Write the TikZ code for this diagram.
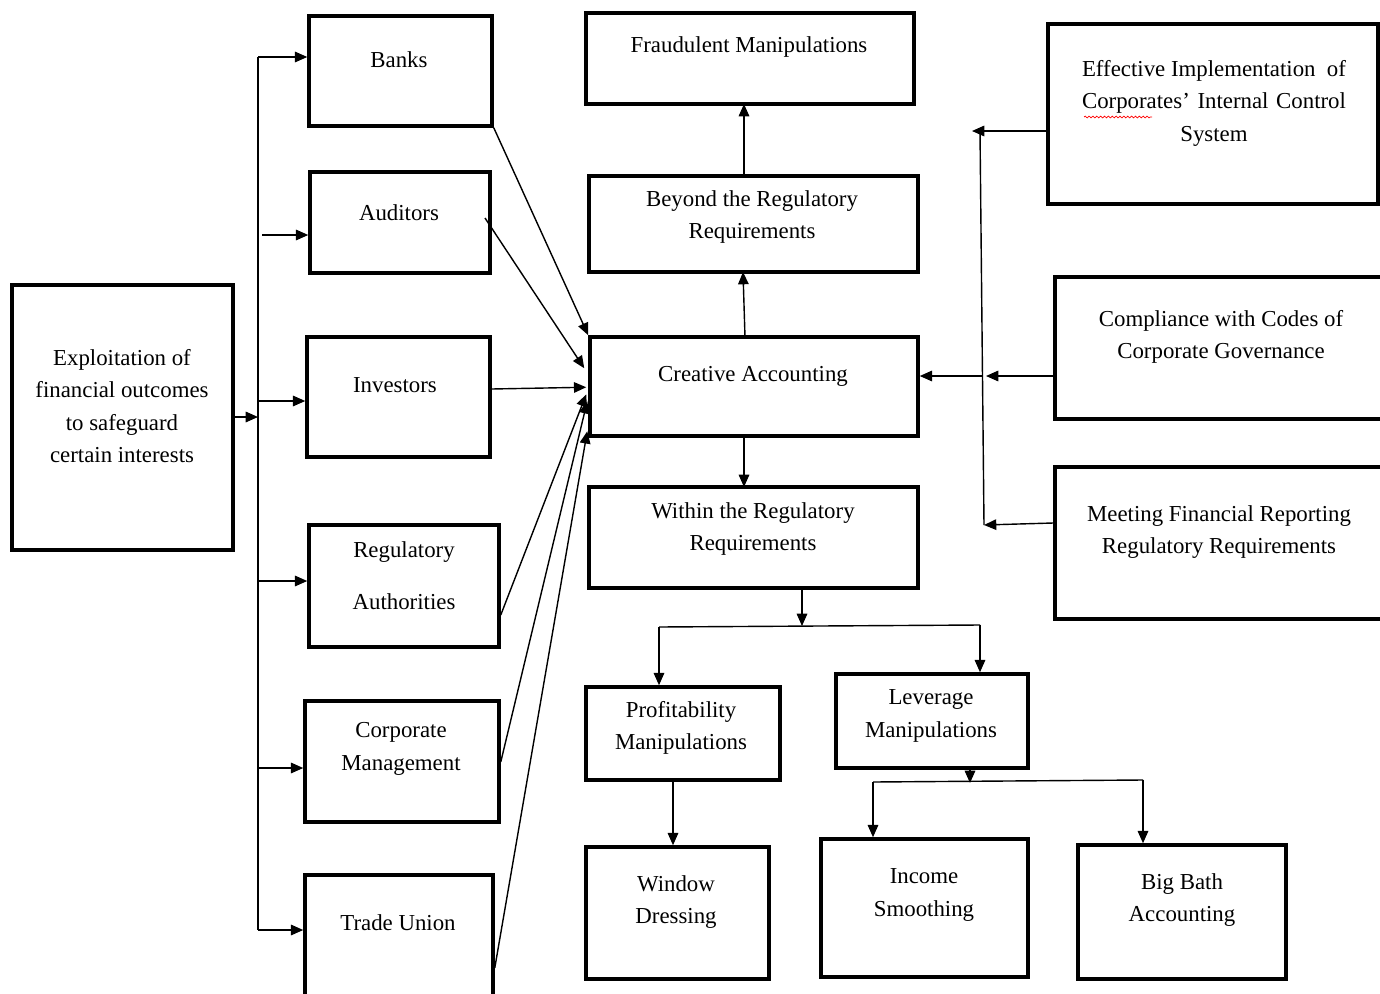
\documentclass[tikz,border=0pt]{standalone}
\usepackage{fontspec}
\setmainfont{Liberation Serif}
\usetikzlibrary{arrows.meta,fit,calc,decorations.pathmorphing}
\newcommand\mybox[5]{\path (#2,#3) coordinate (#1-nw) (#4,#5) coordinate (#1-se);
  \node[box, fit=(#1-nw)(#1-se)] (#1) {};}
\begin{document}
\begin{tikzpicture}[x=0.02cm,y=-0.02cm,
  box/.style={draw, line width=2pt, inner sep=0pt, fill=none},
  txt/.style={align=center, inner sep=0pt, font=\fontsize{13}{18.5}\selectfont},
  arr/.style={line width=0.8pt, -{Triangle[length=7pt,width=6pt]}},
  ln/.style={line width=0.8pt}]
\useasboundingbox (0,0) rectangle (1380,994);
% boxes
\mybox{expl}{12}{285}{233}{550}
\mybox{banks}{309}{16}{492}{126}
\mybox{aud}{310}{172}{490}{273}
\mybox{inv}{307}{337}{490}{457}
\mybox{reg}{309}{525}{499}{647}
\mybox{corp}{305}{701}{499}{822}
\mybox{trade}{305}{875}{493}{1010}
\mybox{fraud}{586}{13}{914}{104}
\mybox{beyond}{589}{176}{918}{272}
\mybox{crea}{590}{337}{918}{436}
\mybox{within}{589}{487}{918}{588}
\mybox{eff}{1048}{24}{1378}{204}
\mybox{comp}{1055}{277}{1395}{419}
\mybox{meet}{1055}{467}{1395}{619}
\mybox{prof}{586}{687}{780}{780}
\mybox{lev}{836}{674}{1028}{768}
\mybox{wind}{586}{847}{769}{979}
\mybox{inc}{821}{839}{1028}{977}
\mybox{bath}{1078}{845}{1286}{979}
% texts
\node[txt] (expl-t) at (122,406) {Exploitation of\\financial outcomes\\to safeguard\\certain interests};
\node[txt] (banks-t) at (399,60) {Banks};
\node[txt] (aud-t) at (399,213) {Auditors};
\node[txt] (inv-t) at (395,385) {Investors};
\node[txt] (reg-t) at (404,576) {Regulatory\\[11pt]Authorities};
\node[txt] (corp-t) at (401,749) {Corporate\\Management};
\node[txt] (trade-t) at (398,923) {Trade Union};
\node[txt] (fraud-t) at (749,47) {Fraudulent Manipulations};
\node[txt] (beyond-t) at (752,217) {Beyond the Regulatory\\Requirements};
\node[txt] (crea-t) at (753,376) {Creative Accounting};
\node[txt] (within-t) at (753,529) {Within the Regulatory\\Requirements};
\node[txt] (eff-t) at (1214,103) {\makebox[5.28cm][s]{Effective Implementation\hfill of}\\\makebox[5.28cm][s]{Corporates’ Internal Control}\\System};
\draw[red, line width=0.4pt, decorate, decoration={snake, amplitude=0.5pt, segment length=2.2pt}] (1084,117) -- (1152,117);
\node[txt] (comp-t) at (1221,337) {Compliance with Codes of\\Corporate Governance};
\node[txt] (meet-t) at (1219,532) {Meeting Financial Reporting\\Regulatory Requirements};
\node[txt] (prof-t) at (681,728) {Profitability\\Manipulations};
\node[txt] (lev-t) at (931,716) {Leverage\\Manipulations};
\node[txt] (wind-t) at (676,902) {Window\\Dressing};
\node[txt] (inc-t) at (924,895) {Income\\Smoothing};
\node[txt] (bath-t) at (1182,900) {Big Bath\\Accounting};
% left bus
\coordinate (busT) at (258,57);
\coordinate (busB) at (258,930);
\draw[ln] (busT) -- (busB);
\draw[arr] (expl.east |- 0,417) -- (busT |- 0,417);
\draw[arr] (busT) -- (banks.west |- busT);
\draw[arr] (262,235) -- (aud.west |- 0,235);
\draw[arr] (busT |- 0,401) -- (inv.west |- 0,401);
\draw[arr] (busT |- 0,581) -- (reg.west |- 0,581);
\draw[arr] (busT |- 0,768) -- (corp.west |- 0,768);
\draw[arr] (busB) -- (trade.west |- busB);
% to creative accounting
\draw[arr] (banks.south east) -- (crea.north west);
\draw[arr] (485,218) -- ($(crea.north west)+(-4,33)$);
\draw[arr] (inv.east |- 0,389) -- ($(crea.north west)+(-2,52)$);
\draw[arr] (reg.east |- 0,615) -- ($(crea.north west)+(-2,59)$);
\draw[arr] (corp.east |- 0,762) -- ($(crea.north west)+(-1,66)$);
\draw[arr] (trade.east |- 0,968) -- ($(crea.north west)+(-1,96)$);
% centre column
\draw[arr] (745,337) -- (743,272);
\draw[arr] (744,176) -- (744,104);
\draw[arr] (744,436) -- (744,487);
% right bus
\coordinate (rbT) at (980,131);
\coordinate (rbB) at (984,525);
\draw[ln] (rbT) -- (rbB);
\draw[arr] (eff.west |- rbT) -- (972,131);
\draw[arr] (comp.west |- 0,376) -- (986,376);
\draw[arr] (983,376) -- (crea.east |- 0,376);
\draw[arr] (meet.west |- 0,523) -- (rbB);
% within branches
\coordinate (wb) at (802,626);
\draw[arr] (within.south -| wb) -- (wb);
\draw[ln] (659,627) -- (980,625);
\draw[arr] (659,627) -- (prof.north -| 659,0);
\draw[arr] (980,625) -- (lev.north -| 980,0);
\draw[arr] (673,780) -- (wind.north -| 673,0);
% leverage branches
\coordinate (lb) at (970,783);
\draw[arr] (lev.south -| lb) -- (lb);
\draw[ln] (873,782) -- (1143,780);
\draw[arr] (873,782) -- (inc.north -| 873,0);
\draw[arr] (1143,780) -- (bath.north -| 1143,0);
\end{tikzpicture}
\end{document}
